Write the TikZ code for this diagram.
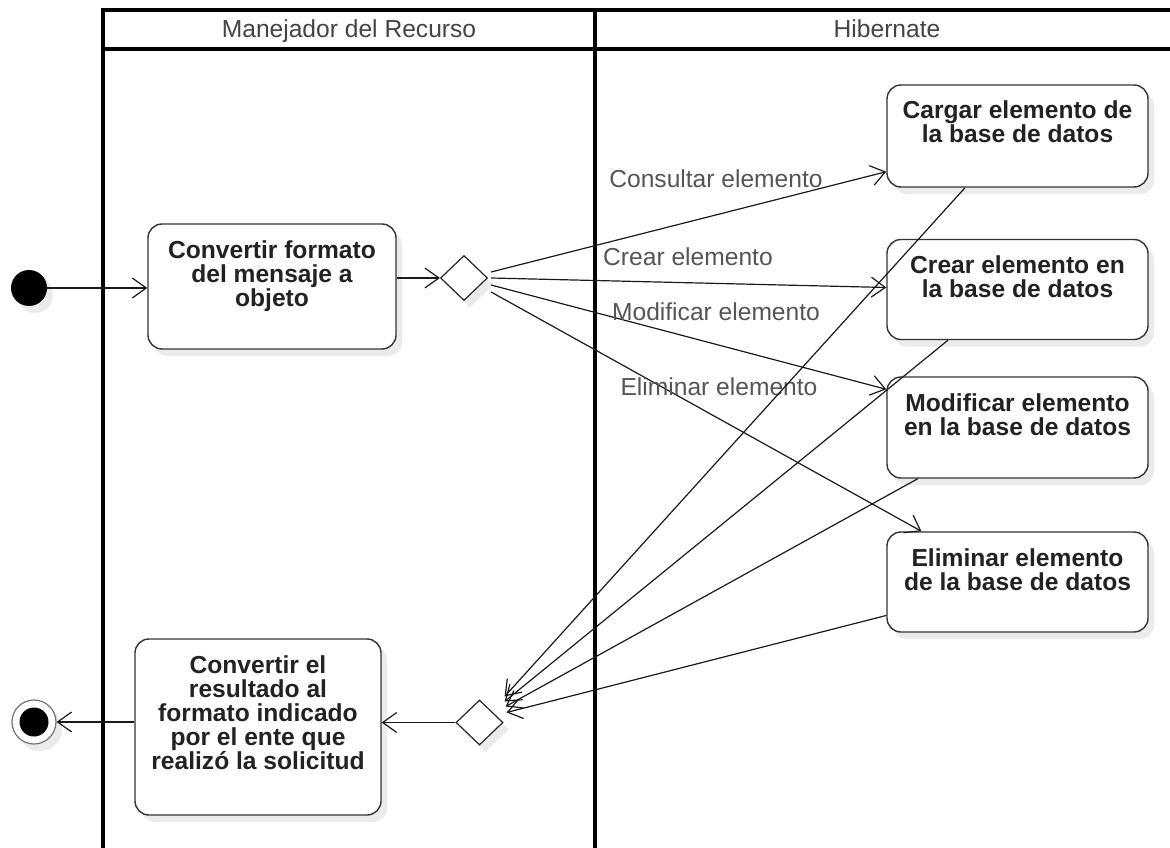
\documentclass[tikz,border=0pt]{standalone}
\usepackage{fontspec}
\setmainfont{Liberation Sans}
\usetikzlibrary{shapes.geometric, arrows.meta, calc, shadows}

\definecolor{edgeclr}{HTML}{1A1A1A}
\definecolor{boxline}{HTML}{333333}
\definecolor{boxtext}{HTML}{222222}
\definecolor{lbltext}{HTML}{555555}
\definecolor{hdrtext}{HTML}{444444}
\definecolor{shade}{HTML}{EBEBEB}

% action text: fixed-size box, lines set from the top
\newcommand{\acttext}[3]{\parbox[c][#2][t]{#1}{\centering\rule{0pt}{34pt}#3\par}}

\tikzset{
  softshadow/.style={general shadow={fill=shade, shadow xshift=6pt, shadow yshift=-7pt}},
  lane/.style={draw=black, line width=3.5pt},
  hdr/.style={font=\fontsize{24.6pt}{24pt}\selectfont, text=hdrtext, inner sep=0pt, anchor=base},
  lbl/.style={font=\fontsize{24.6pt}{24pt}\selectfont, text=lbltext, inner sep=0pt, anchor=base},
  act/.style={draw=boxline, line width=1.4pt, fill=white, rounded corners=14pt,
    inner sep=0pt, text=boxtext, font=\fontsize{24.6pt}{24pt}\selectfont\bfseries, softshadow},
  dec/.style={diamond, aspect=1, draw=black!85, line width=1.2pt, fill=white,
    minimum width=47pt, minimum height=45pt, inner sep=0pt, softshadow},
  initnode/.style={circle, fill=black, minimum size=36pt, inner sep=0pt, softshadow},
  finalnode/.style={circle, draw=black!55, line width=1.2pt, fill=white, minimum size=44pt,
    inner sep=0pt, softshadow,
    path picture={\fill[black] (path picture bounding box.center) circle (14.5pt);}},
  flow/.style={draw=edgeclr, line width=1.2pt, -{Straight Barb[length=14pt, width=20pt]}}
}

\begin{document}
\begin{tikzpicture}[x=1pt, y=-1pt]
\useasboundingbox (0,0) rectangle (1170,848);
\clip (0,0) rectangle (1170,848);
\fill[white] (0,0) rectangle (1170,848);

% swimlanes
\draw[lane, line join=miter] (103,870) -- (103,10) -- (1190,10);
\draw[lane] (103,49) -- (1190,49);
\draw[lane] (595,10) -- (595,870);
\node[hdr] (hdrA) at (349,38) {Manejador del Recurso};
\node[hdr] (hdrB) at (887,38) {Hibernate};

% nodes
\node[initnode] (start) at (29,288) {};
\node[act] (act1) at (272,286.5) {\acttext{248pt}{125pt}{Convertir formato\\del mensaje a\\objeto}};
\node[dec] (dec1) at (464,278) {};

\node[act] (cargar) at (1017.5,136) {\acttext{261pt}{102pt}{Cargar elemento de\\la base de datos}};
\node[act] (crear) at (1017.5,289.5) {\acttext{261pt}{100pt}{Crear elemento en\\la base de datos}};
\node[act] (modif) at (1017.5,427.5) {\acttext{261pt}{101pt}{Modificar elemento\\en la base de datos}};
\node[act] (elim) at (1017.5,582) {\acttext{261pt}{100pt}{Eliminar elemento\\de la base de datos}};

\node[dec] (dec2) at (479.5,722.5) {};
\node[act] (act2) at (258,727) {\acttext{246pt}{176pt}{Convertir el\\resultado al\\formato indicado\\por el ente que\\realizó la solicitud}};
\node[finalnode] (stop) at (34,722) {};

% flow
\draw[flow] (start) -- (act1.west |- start);
\draw[flow] (act1.east |- dec1.west) -- (dec1.west);

\draw[flow] ($(dec1.east)+(3,-6)$) -- ($(cargar.south west)+(0,-16)$);
\draw[flow] ($(dec1.east)+(3,0)$) -- ($(crear.west)+(0,-2)$);
\draw[flow] ($(dec1.east)+(3,7)$) -- ($(modif.north west)+(0,13)$);
\draw[flow] ($(dec1.east)+(3,14)$) -- ($(elim.north west)!0.134!(elim.north east)$);

\node[lbl] (lblA) at (716,187) {Consultar elemento};
\node[lbl] (lblB) at (688,265) {Crear elemento};
\node[lbl] (lblC) at (716,320) {Modificar elemento};
\node[lbl] (lblD) at (719,395) {Eliminar elemento};

\draw[flow] ($(cargar.south west)!0.30!(cargar.south east)$) -- ($(dec2.east)+(1,-26)$);
\draw[flow] ($(crear.south west)!0.235!(crear.south east)$) -- ($(dec2.east)+(1,-21)$);
\draw[flow] ($(modif.south west)!0.12!(modif.south east)$) -- ($(dec2.east)+(2,-16)$);
\draw[flow] ($(elim.north west)!0.83!(elim.south west)$) -- ($(dec2.east)+(3,-10)$);

\draw[flow] (dec2.west) -- (act2.east |- dec2.west);
\draw[flow] (act2.west |- stop) -- (stop.east);
\end{tikzpicture}
\end{document}
